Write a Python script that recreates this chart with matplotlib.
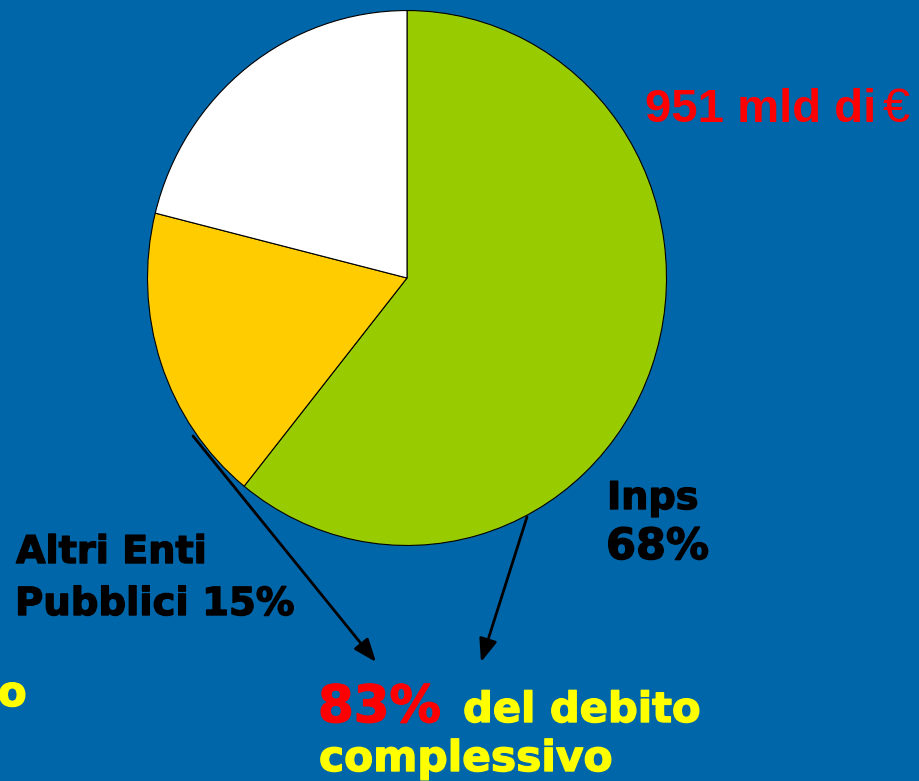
"""
Pie of the public administration debt share (951 mld di euro), slide style.
"""

import matplotlib

matplotlib.use("Agg")
import matplotlib.pyplot as plt
import matplotlib.patheffects as pe

# slice shares (clockwise from 12 o'clock)
slice_names = ["Inps", "Altri Enti Pubblici", "Altro"]
slice_shares = [60.8, 18.1, 21.1]
slice_colors = ["#99CC00", "#FFCC00", "#FFFFFF"]

total_label = "951 mld di"
inps_label = ["Inps", "68%"]
altri_label = ["Altri Enti", "Pubblici 15%"]
summary_pct = "83%"
summary_text = ["del debito", "complessivo"]

BG = "#0066AA"
W, H = 919, 781

fig = plt.figure(figsize=(W / 100, H / 100), dpi=100, facecolor=BG)

# pie sits in its own axes, bounding box (pixels)
left, right, top, bottom = 147, 667, 10, 546
pie_ax = fig.add_axes([left / W, 1 - bottom / H, (right - left) / W, (bottom - top) / H])
pie_ax.pie(
    slice_shares,
    colors=slice_colors,
    startangle=90,
    counterclock=False,
    wedgeprops={"edgecolor": "black", "linewidth": 0.8},
)
pie_ax.set_aspect("auto")
pie_ax.set_xlim(-1.002, 1.002)
pie_ax.set_ylim(-1.002, 1.002)
pie_ax.axis("off")

# overlay in pixel coordinates for labels and arrows
ax = fig.add_axes([0, 0, 1, 1], facecolor="none")
ax.set_xlim(0, W)
ax.set_ylim(H, 0)
ax.axis("off")


def heavy(x, y, s, color, size, **kw):
    """Bold Verdana-like text, slightly thickened with a stroke."""
    opts = dict(family="DejaVu Sans", fontweight="bold", va="baseline", ha="left")
    opts.update(kw)
    ax.text(x, y, s, color=color, fontsize=size,
            path_effects=[pe.withStroke(linewidth=1.0, foreground=color)], **opts)


ax.text(645, 122, total_label, color="#FF0000", fontsize=34,
        family="Liberation Sans", fontweight="bold", va="baseline")
ax.text(883, 122, "€", color="#FF0000", fontsize=35,
        family="Liberation Sans", va="baseline")

heavy(607, 509, inps_label[0], "black", 27.5)
heavy(606, 559, inps_label[1], "black", 31)

heavy(16, 563, altri_label[0], "black", 27.5)
heavy(15, 615, altri_label[1], "black", 27.8)

heavy(318, 722, summary_pct, "#FF0000", 37)
heavy(463, 722, summary_text[0], "#FFFF00", 30)
heavy(319, 771, summary_text[1], "#FFFF00", 30.5)
heavy(-2, 706, "o", "#FFFF00", 30)

arrow = dict(arrowstyle="-|>,head_length=1.4,head_width=0.55", color="black",
             lw=2, shrinkA=0, shrinkB=0)
ax.annotate("", xy=(376, 662), xytext=(193, 436), arrowprops=arrow)
ax.annotate("", xy=(481, 662), xytext=(527, 517), arrowprops=arrow)

fig.savefig("out.png", dpi=100, facecolor=BG)
